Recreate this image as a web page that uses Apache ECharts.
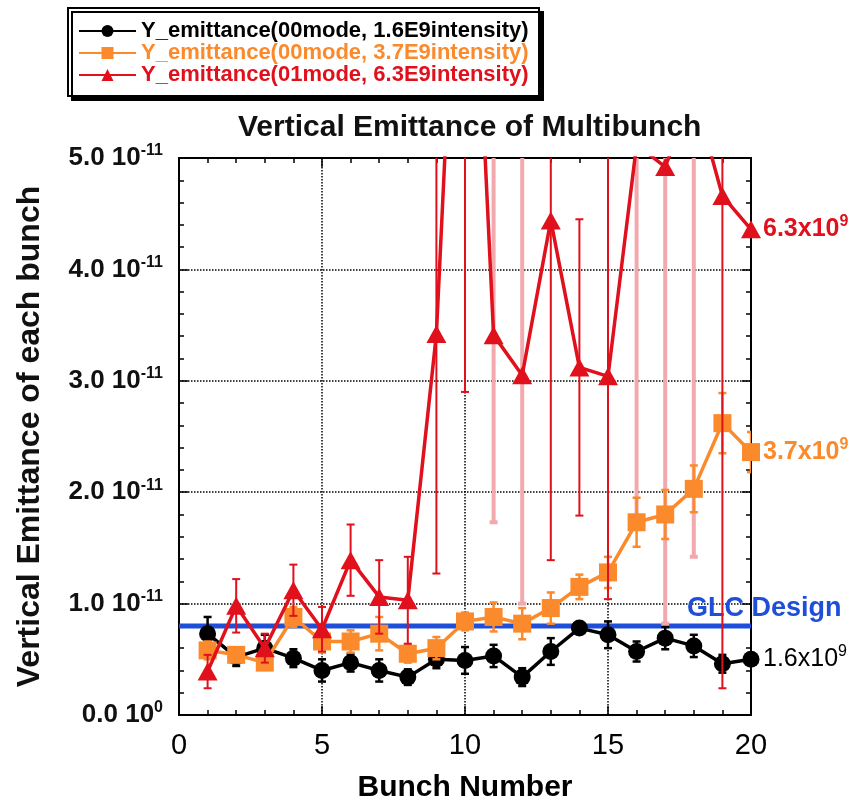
<!DOCTYPE html>
<html>
<head>
<meta charset="utf-8">
<script src="https://cdn.jsdelivr.net/npm/echarts@6/dist/echarts.min.js"></script>
<style>
html,body{margin:0;padding:0;background:#fff;}
#chart{width:861px;height:808px;}
</style>
</head>
<body>
<div id="chart"></div>
<script>
// ---- data (units of 1e-11) ----
const bunches = [1,2,3,4,5,6,7,8,9,10,11,12,13,14,15,16,17,18,19,20];
const yTicks = [0,1,2,3,4,5];
const xTicks = [0,5,10,15,20];

const names = [
  'Y_emittance(00mode, 1.6E9intensity)',
  'Y_emittance(00mode, 3.7E9intensity)',
  'Y_emittance(01mode, 6.3E9intensity)'
];
const endLabels = ['1.6x10', '3.7x10', '6.3x10'];
const endLabelExp = '9';

const emit16 = [0.73,0.52,0.60,0.51,0.40,0.47,0.40,0.34,0.50,0.49,0.53,0.34,0.57,0.78,0.72,0.57,0.69,0.62,0.46,0.50];
const err16  = [0.15,0.08,0.12,0.08,0.10,0.08,0.10,0.07,0.08,0.12,0.10,0.08,0.12,0.05,0.12,0.09,0.10,0.10,0.08,0.05];

const emit37 = [0.58,0.54,0.47,0.88,0.66,0.66,0.73,0.55,0.60,0.84,0.88,0.82,0.96,1.15,1.28,1.73,1.80,2.03,2.62,2.36];
const err37  = [0.08,0.06,0.05,0.09,0.10,0.10,0.15,0.08,0.10,0.08,0.13,0.14,0.14,0.11,0.14,0.22,0.22,0.21,0.27,0.18];

const emit63 = [0.39,0.98,0.60,1.12,0.77,1.39,1.06,1.03,3.42,8.80,3.41,3.05,4.44,3.12,3.04,5.12,4.92,5.60,4.66,4.36];
const err63  = [0.15,0.24,0.13,0.23,0.20,0.32,0.33,0.39,2.15,5.90,1.68,2.05,3.05,1.33,2.00,3.37,4.10,4.18,4.42,0.00];
const err63PaleBunches = [11,12,16,17,18];

const glcDesign = 0.8;
const glcLabel = 'GLC Design';

// ---- styling ----
const FONT = 'Liberation Sans, Arial, Helvetica, sans-serif';
const C_BLACK = '#000000';
const C_ORANGE = '#fb8a2c';
const C_RED = '#e0101c';
const C_PALE = '#f2a9ae';
const C_BLUE = '#1f4fd8';

function pairs(vals){ return bunches.map((b,i)=>[b, vals[i]]); }

function errorBars(name, vals, errs, color, width, z, keep){
  const data = [];
  bunches.forEach((b,i)=>{
    if (errs[i] > 0 && keep(b)) data.push([b, vals[i]-errs[i], vals[i]+errs[i]]);
  });
  return {
    type:'custom', name, data, z, clip:true, silent:true,
    encode:{x:0, y:[1,2]},
    renderItem(params, api){
      const x = api.value(0);
      const lo = api.coord([x, api.value(1)]);
      const hi = api.coord([x, api.value(2)]);
      const cw = 4;
      const st = {stroke:color, lineWidth:width};
      return {type:'group', children:[
        {type:'line', shape:{x1:lo[0], y1:lo[1], x2:hi[0], y2:hi[1]}, style:st},
        {type:'line', shape:{x1:lo[0]-cw, y1:lo[1], x2:lo[0]+cw, y2:lo[1]}, style:st},
        {type:'line', shape:{x1:hi[0]-cw, y1:hi[1], x2:hi[0]+cw, y2:hi[1]}, style:st}
      ]};
    }
  };
}

function endLabel(i, color, bold){
  return {
    show:true, distance:12,
    formatter:'{a|' + endLabels[i] + '}{s|' + endLabelExp + '}',
    rich:{
      a:{fontFamily:FONT, fontSize:25, fontWeight:bold?'bold':'normal', color},
      s:{fontFamily:FONT, fontSize:16, fontWeight:bold?'bold':'normal', color, padding:[0,0,16,0]}
    }
  };
}

function yLabel(v){
  const exp = v === 0 ? '0' : '-11';
  return '{a|' + v.toFixed(1) + ' 10}{s|' + exp + '}';
}

const chart = echarts.init(document.getElementById('chart'), null, {renderer:'canvas'});

const option = {
  animation:false,
  backgroundColor:'#ffffff',
  title:{
    text:'Vertical Emittance of Multibunch',
    left:233, top:108,
    textStyle:{fontFamily:FONT, fontSize:30, fontWeight:'bold', color:'#111'}
  },
  legend:{
    data:[
      {name:names[0], textStyle:{color:C_BLACK}},
      {name:names[1], textStyle:{color:C_ORANGE}},
      {name:names[2], textStyle:{color:C_RED}}
    ],
    orient:'vertical',
    left:68, top:8,
    padding:[12,2,10,10],
    itemGap:0,
    itemWidth:57, itemHeight:15,
    backgroundColor:'#fff',
    borderColor:'#000', borderWidth:2,
    shadowColor:'#000', shadowBlur:0, shadowOffsetX:4, shadowOffsetY:4,
    textStyle:{fontFamily:FONT, fontSize:22, fontWeight:'bold', lineHeight:19, width:396, overflow:'truncate', ellipsis:''}
  },
  grid:{left:179, right:110, top:158, bottom:93, containLabel:false},
  xAxis:[{
    type:'value', min:xTicks[0], max:xTicks[xTicks.length-1], interval:5, position:'bottom',
    axisLine:{show:true, onZero:false, lineStyle:{color:'#000', width:2}},
    axisTick:{show:true, inside:true, length:9, lineStyle:{color:'#000', width:1.5}},
    minorTick:{show:true, splitNumber:5, length:5, lineStyle:{color:'#000', width:1.5}},
    splitLine:{show:true, lineStyle:{type:'dotted', color:'#000', width:1.5}},
    axisLabel:{fontFamily:FONT, fontSize:29, color:'#000', margin:16},
    name:'Bunch Number', nameLocation:'middle', nameGap:58,
    nameTextStyle:{fontFamily:FONT, fontSize:30, fontWeight:'bold', color:'#000'}
  },{
    type:'value', min:xTicks[0], max:xTicks[xTicks.length-1], interval:5, position:'top',
    axisLine:{show:true, onZero:false, lineStyle:{color:'#000', width:2}},
    axisTick:{show:true, inside:true, length:9, lineStyle:{color:'#000', width:1.5}},
    minorTick:{show:true, splitNumber:5, length:5, lineStyle:{color:'#000', width:1.5}},
    splitLine:{show:false}, axisLabel:{show:false}
  }],
  yAxis:[{
    type:'value', min:yTicks[0], max:yTicks[yTicks.length-1], interval:1, position:'left',
    axisLine:{show:true, onZero:false, lineStyle:{color:'#000', width:2}},
    axisTick:{show:true, inside:true, length:9, lineStyle:{color:'#000', width:1.5}},
    minorTick:{show:true, splitNumber:5, length:5, lineStyle:{color:'#000', width:1.5}},
    splitLine:{show:true, lineStyle:{type:'dotted', color:'#000', width:1.5}},
    axisLabel:{
      margin:16, formatter:yLabel,
      rich:{
        a:{fontFamily:FONT, fontSize:26, fontWeight:'bold', color:'#111'},
        s:{fontFamily:FONT, fontSize:16, fontWeight:'bold', color:'#111', padding:[0,0,14,0]}
      }
    },
    name:'Vertical Emittance of each bunch', nameLocation:'middle', nameGap:133, nameRotate:90,
    nameTextStyle:{fontFamily:FONT, fontSize:32, fontWeight:'bold', color:'#111'}
  },{
    type:'value', min:yTicks[0], max:yTicks[yTicks.length-1], interval:1, position:'right',
    axisLine:{show:true, onZero:false, lineStyle:{color:'#000', width:2}},
    axisTick:{show:true, inside:true, length:9, lineStyle:{color:'#000', width:1.5}},
    minorTick:{show:true, splitNumber:5, length:5, lineStyle:{color:'#000', width:1.5}},
    splitLine:{show:false}, axisLabel:{show:false}
  }],
  series:[
    {
      type:'line', name:'GLC', z:1, silent:true,
      data:[[xTicks[0], glcDesign],[xTicks[xTicks.length-1], glcDesign]],
      symbol:'none', lineStyle:{color:C_BLUE, width:5},
      endLabel:{show:true, formatter:glcLabel, distance:0, offset:[-64,-17],
        fontFamily:FONT, fontSize:27, fontWeight:'bold', color:C_BLUE}
    },
    errorBars('err16', emit16, err16, C_BLACK, 2.5, 2, ()=>true),
    {
      type:'line', name:names[0], z:3, data:pairs(emit16),
      symbol:'circle', symbolSize:17,
      itemStyle:{color:C_BLACK}, lineStyle:{color:C_BLACK, width:3.5},
      endLabel:endLabel(0, '#000', false)
    },
    errorBars('err63pale', emit63, err63, C_PALE, 4, 3.5, b=>err63PaleBunches.includes(b)),
    errorBars('err37', emit37, err37, C_ORANGE, 2.5, 4, ()=>true),
    {
      type:'line', name:names[1], z:5, data:pairs(emit37),
      symbol:'rect', symbolSize:18,
      itemStyle:{color:C_ORANGE}, lineStyle:{color:C_ORANGE, width:3.5},
      endLabel:endLabel(1, C_ORANGE, true)
    },
    errorBars('err63', emit63, err63, C_RED, 2, 6, b=>!err63PaleBunches.includes(b)),
    {
      type:'line', name:names[2], z:7, data:pairs(emit63),
      symbol:'triangle', symbolSize:[20,18],
      itemStyle:{color:C_RED}, lineStyle:{color:C_RED, width:3.5},
      endLabel:endLabel(2, C_RED, true)
    }
  ]
};
chart.setOption(option);
</script>
</body>
</html>
